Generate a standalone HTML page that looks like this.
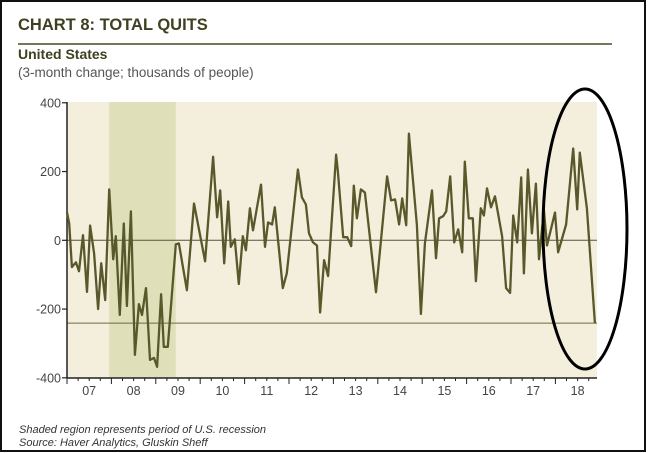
<!DOCTYPE html>
<html><head><meta charset="utf-8"><style>
body{margin:0;background:#fff;}
svg{display:block;font-family:"Liberation Sans",sans-serif;}
</style></head><body>
<svg id="chart" width="650" height="453" viewBox="0 0 650 453">
<rect x="1" y="1" width="644" height="450" fill="#fff" stroke="#111" stroke-width="2"/>
<text x="18" y="30" font-size="16.5" font-weight="bold" fill="#3f4020">CHART 8: TOTAL QUITS</text>
<line x1="18" y1="44" x2="612" y2="44" stroke="#4a4a24" stroke-width="1.5"/>
<text x="18" y="59" font-size="14" font-weight="bold" fill="#3f4020">United States</text>
<text x="18" y="77" font-size="13.5" fill="#555">(3-month change; thousands of people)</text>
<text x="19" y="433" font-size="11" font-style="italic" fill="#333">Shaded region represents period of U.S. recession</text>
<text x="19" y="446" font-size="11" font-style="italic" fill="#333">Source: Haver Analytics, Gluskin Sheff</text>
<g id="plot"></g>
</svg>
<script>
const t=[0,.05,.11,.20,.27,.36,.45,.52,.61,.70,.77,.86,.95,1.04,1.10,1.19,1.28,1.35,1.44,1.53,1.62,1.69,1.78,1.87,1.96,2.03,2.12,2.18,2.27,2.45,2.52,2.70,2.86,3.11,3.29,3.38,3.45,3.54,3.63,3.69,3.78,3.87,3.96,4.03,4.12,4.19,4.37,4.46,4.53,4.62,4.68,4.86,4.95,5.20,5.29,5.38,5.45,5.54,5.63,5.70,5.79,5.88,6.06,6.10,6.22,6.31,6.40,6.46,6.53,6.62,6.71,6.96,7.21,7.30,7.39,7.48,7.55,7.64,7.70,7.88,7.97,8.06,8.22,8.31,8.38,8.47,8.54,8.63,8.72,8.81,8.90,8.96,9.05,9.14,9.21,9.32,9.39,9.46,9.55,9.64,9.80,9.89,9.98,10.05,10.14,10.23,10.29,10.38,10.47,10.56,10.63,10.74,10.81,10.99,11.06,11.24,11.40,11.49,11.55,11.71,11.89];
const values=[81,49,-78,-64,-90,15,-150,43,-38,-200,-67,-174,148,-55,12,-217,49,-191,84,-333,-186,-217,-139,-348,-342,-368,-157,-310,-310,-12,-9,-145,107,-61,243,67,145,-67,113,-19,3,-127,12,-29,93,29,162,-19,52,46,96,-139,-96,206,125,104,20,-6,-15,-210,-58,-104,249,203,9,9,-17,159,64,148,139,-151,186,116,119,46,122,44,310,44,-214,-9,145,-52,64,70,84,186,-6,32,-35,229,64,64,-119,93,72,151,96,128,12,-139,-153,72,-6,183,-96,206,20,165,-55,87,-15,81,-35,46,267,90,255,93,-241];
const yTicks=[400,200,0,-200,-400];
const yearLabels=["07","08","09","10","11","12","13","14","15","16","17","18"];
const recession=[0.95,2.45];
const refLine=-241;

const NS="http://www.w3.org/2000/svg";
const g=document.getElementById('plot');
const X0=67,X1=597,YT=102,YB=378;
const xs=v=>X0+v*44.4;
const ys=v=>240.3-v*0.3438;
function mk(tag,attrs){const e=document.createElementNS(NS,tag);for(const k in attrs)e.setAttribute(k,attrs[k]);g.appendChild(e);return e;}
let e=mk('rect',{x:X0,y:YT,width:X1-X0,height:YB-YT,fill:'#f3efdc'});


e=mk('rect',{x:xs(recession[0]),y:YT,width:xs(recession[1])-xs(recession[0]),height:YB-YT,fill:'#dfe0b9'});


e=mk('line',{x1:X0,x2:X1,y1:ys(0),y2:ys(0),stroke:'#55553a','stroke-width':1});


e=mk('line',{x1:X0,x2:X1,y1:ys(refLine),y2:ys(refLine),stroke:'#6b6b45','stroke-width':1});


e=mk('line',{x1:X0,x2:X0,y1:YT,y2:YB,stroke:'#222','stroke-width':1.5});


e=mk('line',{x1:X0,x2:X1,y1:YB,y2:YB,stroke:'#222','stroke-width':1.5});


yTicks.forEach(v=>{
  const y=ys(v);
  let l=mk('line',{x1:X0-5,x2:X0,y1:y,y2:y,stroke:'#222','stroke-width':1.2});
  
  
  let tx=mk('text',{x:X0-6,y:y+4.5,'text-anchor':'end','font-size':12.5,fill:'#444'});
  tx.textContent=v;
  
  
});
for(let q=0;q<=47;q++){
  const x=xs(q/4);
  if(x>X1)break;
  let l=mk('line',{x1:x,x2:x,y1:YB,y2:YB+(q%4===0?6:3),stroke:'#222','stroke-width':1});
  
  
}
yearLabels.forEach((s,i)=>{
  let tx=mk('text',{x:xs(i+0.5),y:YB+17,'text-anchor':'middle','font-size':12.5,fill:'#444'});
  tx.textContent=s;
  
  
});
const d=t.map((v,i)=>(i?'L':'M')+xs(v).toFixed(1)+','+ys(values[i]).toFixed(1)).join('');
e=mk('path',{d:d,fill:'none',stroke:'#58582a','stroke-width':2.3,'stroke-linejoin':'round'});


e=mk('ellipse',{cx:585,cy:229,rx:42,ry:140,fill:'none',stroke:'#000','stroke-width':3});


</script>
</body></html>
